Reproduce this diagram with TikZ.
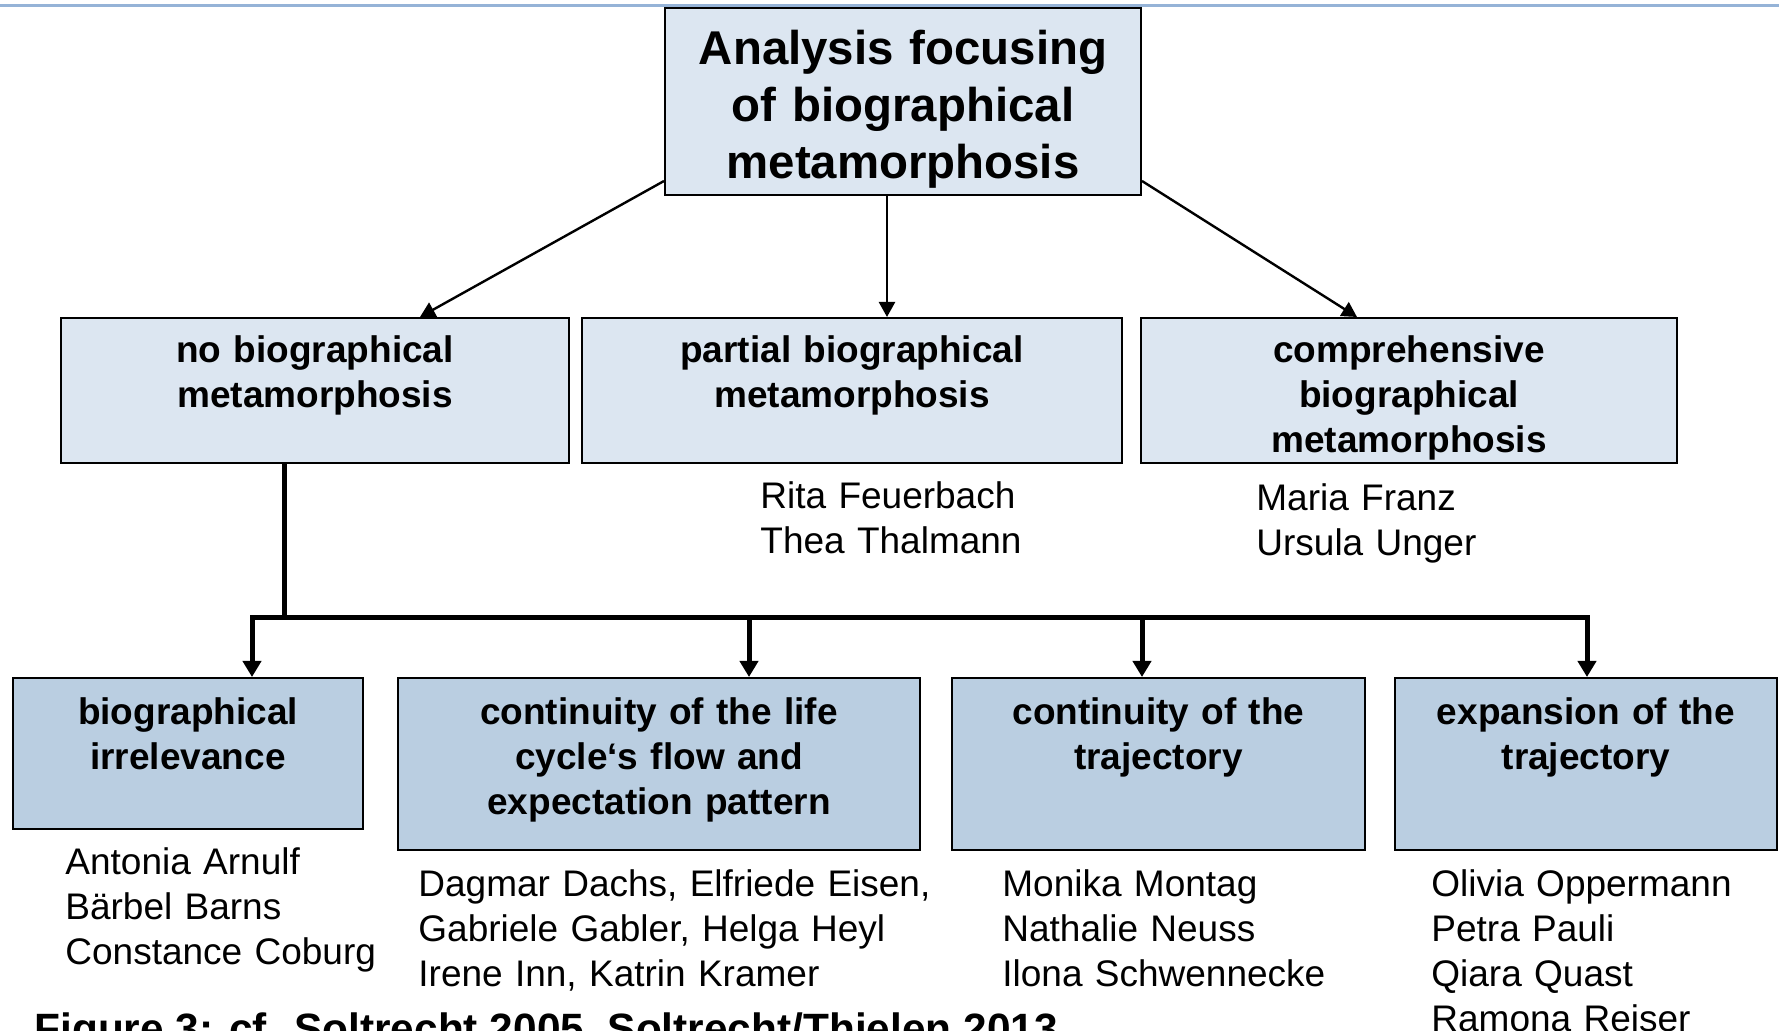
\documentclass[tikz,border=0pt]{standalone}
\usepackage{fontspec}
\setmainfont{Liberation Sans}
\usetikzlibrary{arrows.meta}

\definecolor{rulecol}{HTML}{95B3D7}
\definecolor{paleblue}{HTML}{DCE6F1}
\definecolor{midblue}{HTML}{BACEE1}

\tikzset{
	catbox/.style={draw=black, line width=1pt, fill=paleblue, inner sep=0pt, anchor=north west},
	subbox/.style={catbox, fill=midblue},
	toptext/.style={font=\bfseries\fontsize{23.7}{28.5}\selectfont, align=center, text width=230pt, inner sep=0pt, anchor=base},
	boxtext/.style={font=\bfseries\fontsize{18.5}{22.5}\selectfont, align=center, text width=#1, inner sep=0pt, anchor=base},
	names/.style={font=\fontsize{18.5}{22.5}\selectfont, align=left, text width=300pt, inner sep=0pt, anchor=base west},
	thinarrow/.style={line width=1.2pt, -{Triangle[width=8pt,length=7.5pt]}},
	thickarrow/.style={line width=2.5pt, -{Triangle[width=9pt,length=8pt]}},
}

\begin{document}
\begin{tikzpicture}[x=0.5pt, y=-0.5pt]
		\useasboundingbox (0,0) rectangle (1779,1031);
		\draw[rulecol, line width=1.5pt] (0,6) -- (1779,6);
		
		% boxes
		\node[catbox, minimum width=238pt, minimum height=93.5pt] (root) at (664,7) {};
		\node[catbox, minimum width=254pt, minimum height=72.5pt] (nomet) at (60,317) {};
		\node[catbox, minimum width=270pt, minimum height=72.5pt] (partial) at (581,317) {};
		\node[catbox, minimum width=268pt, minimum height=72.5pt] (compr) at (1140,317) {};
		\node[subbox, minimum width=175pt, minimum height=75.5pt] (irrel) at (12,677) {};
		\node[subbox, minimum width=261pt, minimum height=86pt] (lifecyc) at (397,677) {};
		\node[subbox, minimum width=206.5pt, minimum height=86pt] (contraj) at (951,677) {};
		\node[subbox, minimum width=191pt, minimum height=86pt] (expan) at (1394,677) {};
		
		\node[toptext] (roottxt) at ([yshift=-29pt]root.north) {Analysis focusing\\ of biographical\\ metamorphosis};
		\node[boxtext=240pt] (nomettxt) at ([yshift=-22.75pt]nomet.north) {no biographical\\ metamorphosis};
		\node[boxtext=260pt] (partialtxt) at ([yshift=-22.75pt]partial.north) {partial biographical\\ metamorphosis};
		\node[boxtext=260pt] (comprtxt) at ([yshift=-22.75pt]compr.north) {comprehensive\\ biographical\\ metamorphosis};
		\node[boxtext=170pt] (irreltxt) at ([yshift=-23.75pt]irrel.north) {biographical\\ irrelevance};
		\node[boxtext=255pt] (lifecyctxt) at ([yshift=-23.75pt]lifecyc.north) {continuity of the life\\ cycle‘s flow and\\ expectation pattern};
		\node[boxtext=200pt] (contrajtxt) at ([yshift=-23.75pt]contraj.north) {continuity of the\\ trajectory};
		\node[boxtext=185pt] (expantxt) at ([yshift=-23.75pt]expan.north) {expansion of the\\ trajectory};
		
		% names
		\node[names] (partialnames) at (760,509) {Rita Feuerbach\\ Thea Thalmann};
		\node[names] (comprnames) at (1256,511) {Maria Franz\\ Ursula Unger};
		\node[names] (irrelnames) at (65,875) {Antonia Arnulf\\ Bärbel Barns\\ Constance Coburg};
		\node[names] (lifecycnames) at (418,896) {Dagmar Dachs, Elfriede Eisen,\\ Gabriele Gabler, Helga Heyl\\ Irene Inn, Katrin Kramer};
		\node[names] (contrajnames) at (1002,896) {Monika Montag\\ Nathalie Neuss\\ Ilona Schwennecke};
		\node[names] (expannames) at (1431,896) {Olivia Oppermann\\ Petra Pauli\\ Qiara Quast\\ Ramona Reiser};
		
		\node[font=\bfseries\fontsize{21.2}{25}\selectfont, inner sep=0pt, anchor=base west] (caption) at (34,1043) {Figure 3: cf. Soltrecht 2005, Soltrecht/Thielen 2013};
		
		% connectors
		\draw[thinarrow] ([yshift=7.5pt]root.south west) -- ([xshift=52.5pt]nomet.north);
		\draw[thinarrow] ([xshift=-8pt]root.south) -- ([xshift=17.5pt]partial.north);
		\draw[thinarrow] ([yshift=7.5pt]root.south east) -- ([xshift=-26pt]compr.north);
		
		\draw[line width=2.5pt] ([xshift=-15.5pt]nomet.south) -- ++(0,154) coordinate (split);
		\draw[thickarrow, {Triangle[width=9pt,length=8pt]}-{Triangle[width=9pt,length=8pt]}] ([xshift=32pt]irrel.north) |- (split) -| ([xshift=0.5pt]expan.north);
		\foreach \n/\dx in {lifecyc/45pt, contraj/-8.25pt}
			\draw[thickarrow] ([xshift=\dx]\n.north |- split) -- ([xshift=\dx]\n.north);
		
\end{tikzpicture}
\end{document}
